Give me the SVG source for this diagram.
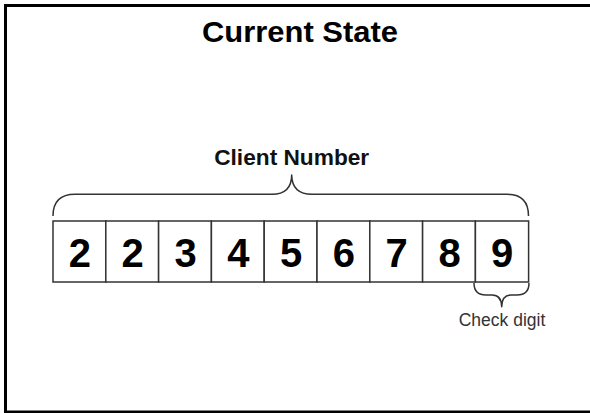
<svg xmlns="http://www.w3.org/2000/svg" width="590" height="413" viewBox="0 0 590 413">
<style>
.frame{fill:#fff;stroke:#000;stroke-width:3}
.box{fill:#fff;stroke:#333;stroke-width:1.5}
.digit{font-family:"Liberation Sans",Arial,sans-serif;font-weight:bold;font-size:40px;fill:#000;text-anchor:middle}
.brace{fill:none;stroke:#333;stroke-width:1.5;stroke-linejoin:round}
.title{font-family:"Liberation Sans",Arial,sans-serif;font-weight:bold;font-size:30px;fill:#000;text-anchor:middle}
.label{font-family:"Liberation Sans",Arial,sans-serif;font-weight:bold;font-size:22px;fill:#111;text-anchor:middle}
.small{font-family:"Liberation Sans",Arial,sans-serif;font-size:17.5px;fill:#333;text-anchor:middle}
</style>
<rect class="frame" x="5.5" y="5.5" width="620" height="406.5"/>
<text class="title" x="300" y="41.7" textLength="196" lengthAdjust="spacingAndGlyphs">Current State</text>
<g id="client-number-label"><text class="label" x="291.7" y="165" textLength="155" lengthAdjust="spacingAndGlyphs">Client Number</text></g>
<g id="connectors">
<path class="brace" d="M53,216 Q53,194.3 75,194.3 L272,194.3 Q291.5,194.3 291.7,175 Q292,194.3 312,194.3 L507,194.3 Q528.5,194.3 528.5,216"/>
<path class="brace" d="M474,283 Q474,295 486,295 L492,295 Q501.5,295 501.7,306.7 Q502,295 511,295 L517,295 Q529,295 529,283"/>
</g>
<g id="digits">
<g id="d1"><rect class="box" x="53" y="221" width="52.8" height="61"/><text class="digit" x="79.9" y="266.7">2</text></g>
<g id="d2"><rect class="box" x="105.8" y="221" width="52.8" height="61"/><text class="digit" x="132.7" y="266.7">2</text></g>
<g id="d3"><rect class="box" x="158.6" y="221" width="52.8" height="61"/><text class="digit" x="185.5" y="266.7">3</text></g>
<g id="d4"><rect class="box" x="211.4" y="221" width="52.8" height="61"/><text class="digit" x="238.3" y="266.7">4</text></g>
<g id="d5"><rect class="box" x="264.2" y="221" width="52.8" height="61"/><text class="digit" x="291.1" y="266.7">5</text></g>
<g id="d6"><rect class="box" x="317" y="221" width="52.8" height="61"/><text class="digit" x="343.9" y="266.7">6</text></g>
<g id="d7"><rect class="box" x="369.8" y="221" width="52.8" height="61"/><text class="digit" x="396.7" y="266.7">7</text></g>
<g id="d8"><rect class="box" x="422.6" y="221" width="52.8" height="61"/><text class="digit" x="449.5" y="266.7">8</text></g>
<g id="d9"><rect class="box" x="475.4" y="221" width="53.2" height="61"/><text class="digit" x="502" y="266.7">9</text></g>
</g>
<g id="check-digit-label"><text class="small" x="502" y="325.7">Check digit</text></g>
</svg>
